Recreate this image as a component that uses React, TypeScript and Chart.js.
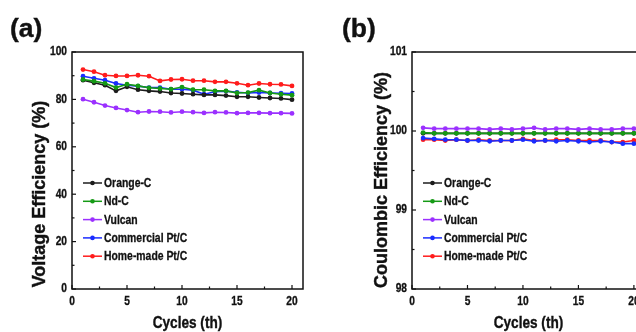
import React, { useEffect, useRef } from "react";
import { Chart, registerables } from "chart.js";

Chart.register(...registerables);

const cycles = [1, 2, 3, 4, 5, 6, 7, 8, 9, 10, 11, 12, 13, 14, 15, 16, 17, 18, 19, 20];
const seriesNames = ["Orange-C", "Nd-C", "Vulcan", "Commercial Pt/C", "Home-made Pt/C"];
const seriesColors = ["#1c1c1c", "#159a15", "#9b30ff", "#1a2cff", "#ff1c1c"];

// (a) Voltage efficiency (%)
const veOrange = [88.1, 87.0, 86.0, 83.6, 85.3, 84.1, 83.6, 83.3, 82.7, 82.5, 82.2, 81.9, 81.9, 81.6, 81.1, 81.1, 80.8, 80.6, 80.4, 79.9];
const veNd = [88.4, 87.7, 86.8, 85.0, 86.4, 85.7, 84.9, 84.6, 84.3, 85.2, 84.1, 84.1, 83.6, 83.6, 82.7, 82.9, 83.9, 82.7, 82.2, 81.8];
const veVulcan = [80.1, 78.8, 77.4, 76.4, 75.5, 74.6, 74.9, 74.8, 74.5, 74.8, 74.6, 74.3, 74.6, 74.5, 74.2, 74.3, 74.3, 74.2, 74.2, 74.1];
const veCommercial = [89.8, 88.9, 88.1, 86.7, 86.0, 85.6, 85.0, 85.0, 84.3, 84.3, 83.9, 82.2, 83.2, 83.5, 83.0, 82.7, 82.9, 82.7, 82.6, 82.5];
const veHome = [92.6, 91.7, 90.2, 89.9, 89.9, 90.2, 89.8, 87.8, 88.4, 88.5, 87.9, 87.9, 87.4, 87.4, 86.8, 86.0, 86.7, 86.4, 86.3, 85.7];

// (b) Coulombic efficiency (%)
const ceOrange = [99.97, 99.97, 99.97, 99.97, 99.97, 99.97, 99.97, 99.97, 99.97, 99.97, 99.97, 99.97, 99.97, 99.97, 99.97, 99.97, 99.97, 99.97, 99.97, 99.97];
const ceNd = [99.98, 99.97, 99.97, 99.97, 99.97, 99.97, 99.97, 99.97, 99.97, 99.97, 99.97, 99.97, 99.97, 99.97, 99.97, 99.97, 99.97, 99.97, 99.97, 99.97];
const ceVulcan = [100.04, 100.03, 100.03, 100.03, 100.03, 100.03, 100.02, 100.03, 100.02, 100.03, 100.04, 100.02, 100.03, 100.03, 100.02, 100.03, 100.02, 100.02, 100.03, 100.03];
const ceCommercial = [99.91, 99.9, 99.89, 99.89, 99.88, 99.88, 99.87, 99.88, 99.88, 99.89, 99.87, 99.88, 99.87, 99.88, 99.87, 99.86, 99.87, 99.86, 99.84, 99.84];
const ceHome = [99.89, 99.89, 99.88, 99.89, 99.88, 99.89, 99.88, 99.88, 99.88, 99.9, 99.88, 99.88, 99.89, 99.89, 99.88, 99.88, 99.88, 99.86, 99.86, 99.88];

const veSeries = [veOrange, veNd, veVulcan, veCommercial, veHome];
const ceSeries = [ceOrange, ceNd, ceVulcan, ceCommercial, ceHome];

const FONT = "'Liberation Sans', Arial, sans-serif";
const INK = "#111";

function squashText(ctx: any, text: string, x: number, y: number, sx: number, align: string, stroke = 0) {
  ctx.save();
  ctx.translate(x, y);
  ctx.scale(sx, 1);
  ctx.textAlign = align;
  ctx.fillText(text, 0, 0);
  if (stroke > 0) {
    ctx.strokeStyle = ctx.fillStyle;
    ctx.lineWidth = stroke;
    ctx.strokeText(text, 0, 0);
  }
  ctx.restore();
}

const decorPlugin = {
  id: "decor",
  afterDraw(chart: any, _args: any, o: any) {
    const { ctx, chartArea: ca } = chart;
    const xs = chart.scales.x;
    const ys = chart.scales.y;
    ctx.save();
    // frame
    ctx.strokeStyle = INK;
    ctx.lineWidth = 1.5;
    ctx.strokeRect(ca.left, ca.top, ca.right - ca.left, ca.bottom - ca.top);
    // inward ticks
    ctx.lineWidth = 1.2;
    for (let v = xs.min; v <= xs.max + 1e-9; v += o.xMinor) {
      const major = Math.abs(v / o.xMajor - Math.round(v / o.xMajor)) < 1e-6;
      const px = xs.getPixelForValue(v);
      ctx.beginPath();
      ctx.moveTo(px, ca.bottom);
      ctx.lineTo(px, ca.bottom - (major ? 4 : 2.5));
      ctx.stroke();
    }
    for (let v = ys.min; v <= ys.max + 1e-9; v += o.yMinor) {
      const major = Math.abs((v - ys.min) / o.yMajor - Math.round((v - ys.min) / o.yMajor)) < 1e-6;
      const py = ys.getPixelForValue(v);
      ctx.beginPath();
      ctx.moveTo(ca.left, py);
      ctx.lineTo(ca.left + (major ? 4 : 2.5), py);
      ctx.stroke();
    }
    ctx.fillStyle = INK;
    // tick labels from the scales' own ticks
    ctx.font = `bold 12px ${FONT}`;
    ctx.textBaseline = "middle";
    xs.ticks.forEach((t: any) => {
      squashText(ctx, String(t.value), xs.getPixelForValue(t.value), ca.bottom + 13, 0.85, "center", 0.3);
    });
    ys.ticks.forEach((t: any) => {
      squashText(ctx, String(t.value), ca.left - 5, ys.getPixelForValue(t.value), 0.85, "right", 0.3);
    });
    // panel label
    ctx.font = `bold 26px ${FONT}`;
    ctx.textBaseline = "alphabetic";
    squashText(ctx, o.label, o.labelX, o.labelY, 1.02, "left", 0.4);
    // x title
    ctx.font = `bold 17px ${FONT}`;
    ctx.textBaseline = "middle";
    squashText(ctx, o.xTitle, (ca.left + ca.right) / 2, o.xTitleY, 0.8, "center", 0.4);
    // y title
    ctx.save();
    ctx.translate(o.yTitleX, o.yTitleY);
    ctx.rotate(-Math.PI / 2);
    ctx.font = `bold 18px ${FONT}`;
    ctx.textAlign = "center";
    ctx.fillText(o.yTitle, 0, 0);
    ctx.strokeStyle = INK;
    ctx.lineWidth = 0.4;
    ctx.strokeText(o.yTitle, 0, 0);
    ctx.restore();
    // legend
    ctx.font = `bold 13px ${FONT}`;
    ctx.textBaseline = "middle";
    chart.data.datasets.forEach((ds: any, i: number) => {
      const y = o.legendY + i * 18.3;
      const x = o.legendX;
      ctx.strokeStyle = ds.borderColor;
      ctx.lineWidth = 1.5;
      ctx.beginPath();
      ctx.moveTo(x, y);
      ctx.lineTo(x + 19, y);
      ctx.stroke();
      ctx.fillStyle = ds.borderColor;
      ctx.beginPath();
      ctx.arc(x + 9.5, y, 2.3, 0, Math.PI * 2);
      ctx.fill();
      ctx.fillStyle = INK;
      squashText(ctx, ds.label, x + 21, y + 0.5, 0.8, "left", 0.3);
    });
    ctx.restore();
  },
};

function makeDatasets(series: number[][], orders: number[]) {
  return series.map((vals, i) => ({
    label: seriesNames[i],
    data: cycles.map((c, j) => ({ x: c, y: vals[j] })),
    borderColor: seriesColors[i],
    backgroundColor: seriesColors[i],
    pointBackgroundColor: seriesColors[i],
    pointBorderColor: seriesColors[i],
    pointRadius: 2.4,
    pointBorderWidth: 0,
    borderWidth: 1.6,
    tension: 0,
    order: orders[i],
  }));
}

function PanelChart(props: {
  width: number;
  left: number;
  series: number[][];
  orders: number[];
  yMin: number;
  yMax: number;
  yStep: number;
  yWidth: number;
  padRight: number;
  decor: any;
}) {
  const ref = useRef<HTMLCanvasElement | null>(null);
  useEffect(() => {
    if (!ref.current) return;
    const chart = new Chart(ref.current, {
      type: "line",
      data: { datasets: makeDatasets(props.series, props.orders) as any },
      plugins: [decorPlugin as any],
      options: {
        responsive: false,
        animation: false,
        devicePixelRatio: 1,
        layout: { padding: { top: 52, right: props.padRight, left: 0, bottom: 0 } },
        plugins: {
          legend: { display: false },
          tooltip: { enabled: false },
          decor: props.decor,
        } as any,
        scales: {
          x: {
            type: "linear",
            min: 0,
            max: 21,
            grid: { display: false },
            border: { display: false },
            ticks: { stepSize: 5, includeBounds: false, display: false },
            afterFit: (s: any) => {
              s.height = 43;
            },
          },
          y: {
            type: "linear",
            min: props.yMin,
            max: props.yMax,
            grid: { display: false },
            border: { display: false },
            ticks: { stepSize: props.yStep, includeBounds: false, display: false },
            afterFit: (s: any) => {
              s.width = props.yWidth;
            },
          },
        },
      } as any,
    });
    return () => chart.destroy();
  }, []);
  return (
    <canvas
      ref={ref}
      width={props.width}
      height={332}
      style={{ position: "absolute", left: props.left, top: 0, width: props.width, height: 332 }}
    />
  );
}

export default function App() {
  return (
    <div
      style={{
        position: "absolute",
        left: 0,
        top: 0,
        width: 636,
        height: 332,
        overflow: "hidden",
        background: "#fff",
      }}
    >
      <PanelChart
        width={318}
        left={0}
        series={veSeries}
        orders={[2, 1, 3, 4, 5]}
        yMin={0}
        yMax={100}
        yStep={20}
        yWidth={72}
        padRight={15}
        decor={{
          label: "(a)",
          labelX: 10,
          labelY: 37,
          xTitle: "Cycles (th)",
          xTitleY: 323,
          yTitle: "Voltage Efficiency (%)",
          yTitleX: 40,
          yTitleY: 194,
          legendX: 83,
          legendY: 183,
          xMinor: 2.5,
          xMajor: 5,
          yMinor: 10,
          yMajor: 20,
        }}
      />
      <PanelChart
        width={340}
        left={318}
        series={ceSeries}
        orders={[5, 2, 1, 3, 4]}
        yMin={98}
        yMax={101}
        yStep={1}
        yWidth={94}
        padRight={13}
        decor={{
          label: "(b)",
          labelX: 24,
          labelY: 37,
          xTitle: "Cycles (th)",
          xTitleY: 323,
          yTitle: "Coulombic Efficiency (%)",
          yTitleX: 64,
          yTitleY: 180,
          legendX: 105,
          legendY: 183,
          xMinor: 2.5,
          xMajor: 5,
          yMinor: 0.5,
          yMajor: 1,
        }}
      />
    </div>
  );
}
